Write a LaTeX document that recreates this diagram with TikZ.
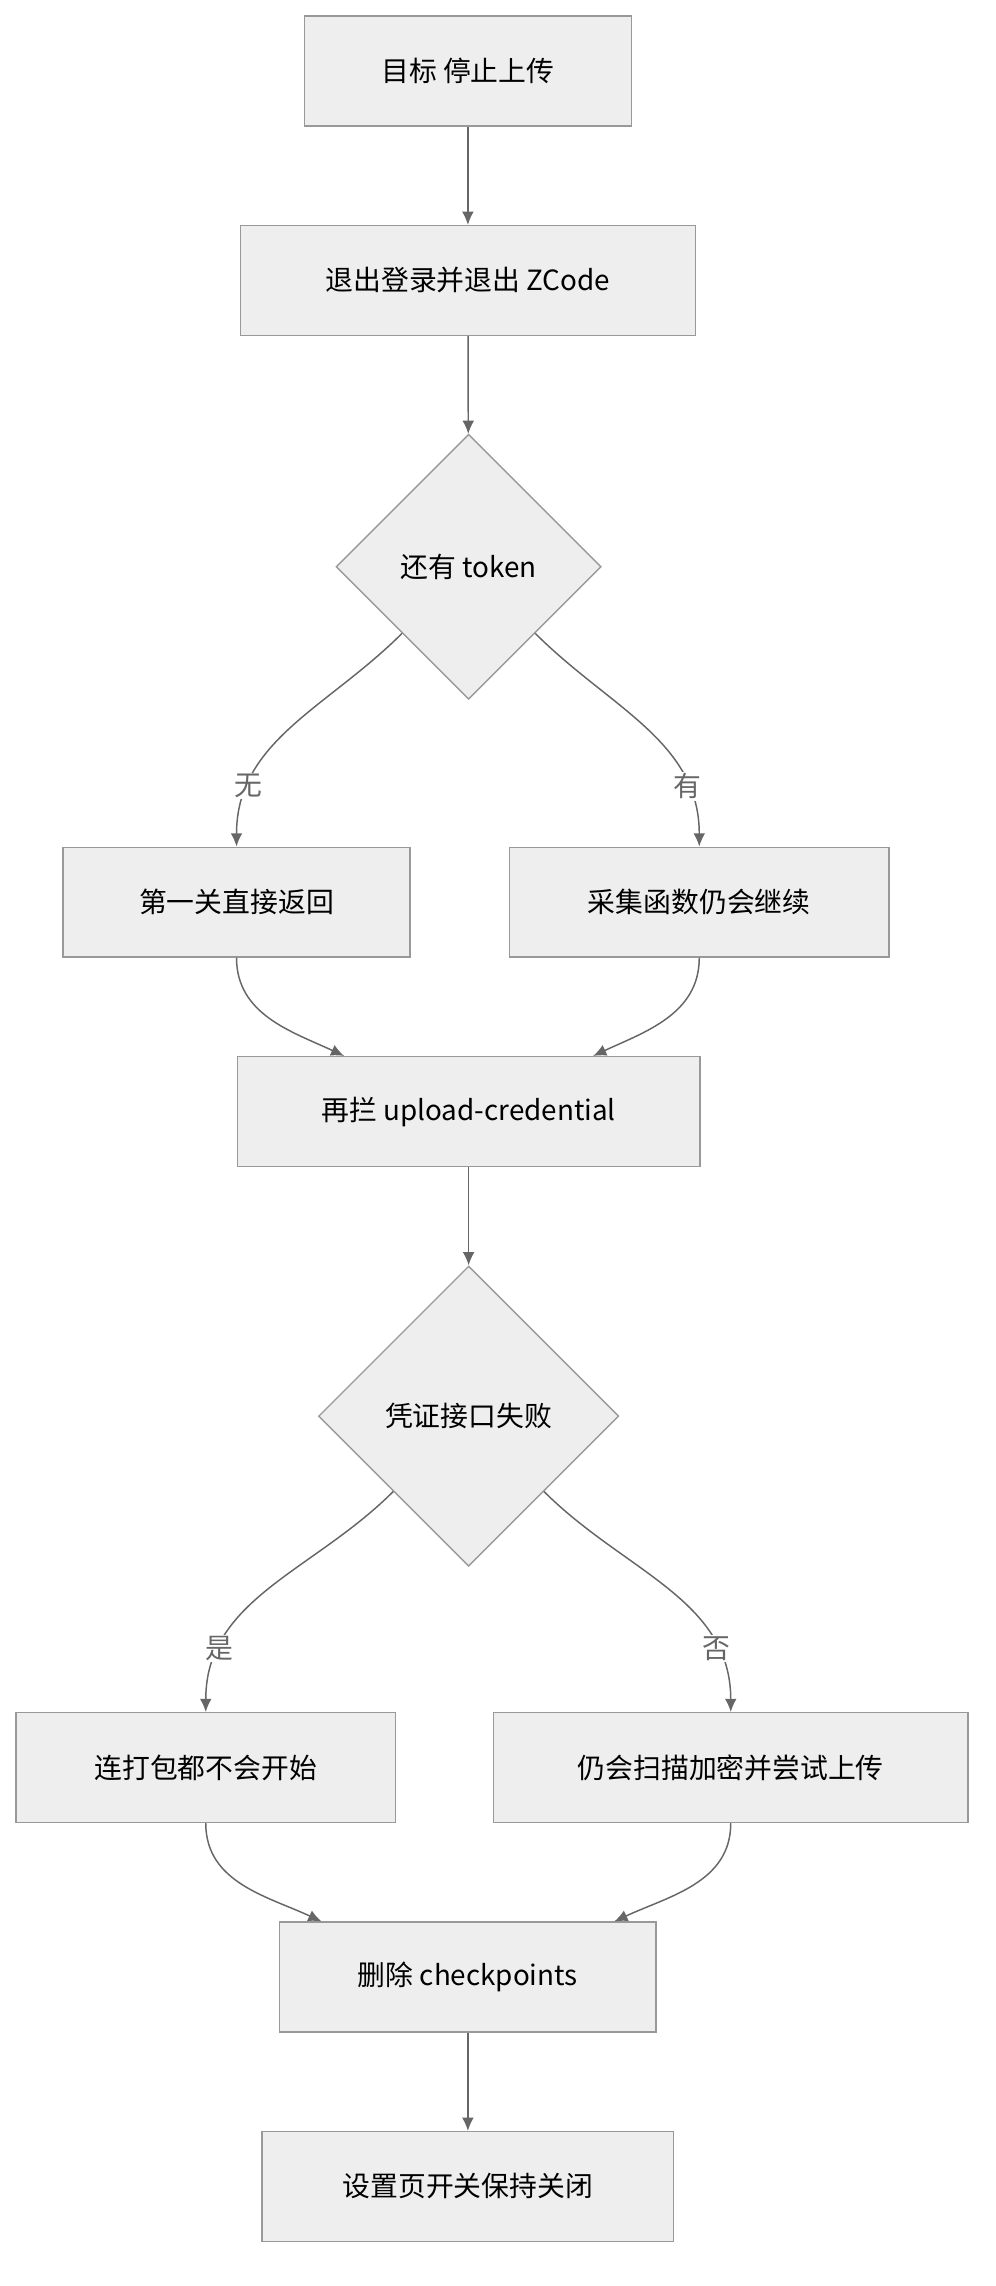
\documentclass[tikz,border=0pt]{standalone}
\usepackage{fontspec}
\setmainfont{Liberation Sans}
\newfontfamily\cjk{Noto Sans CJK SC}
\usetikzlibrary{arrows.meta,shapes.geometric}
\definecolor{boxfill}{HTML}{EEEEEE}
\definecolor{boxline}{HTML}{999999}
\definecolor{arrowc}{HTML}{666666}
\begin{document}
\begin{tikzpicture}[x=1pt,y=-1pt,
  font=\cjk\fontsize{19}{22}\selectfont,
  stepbox/.style={shape=rectangle, draw=boxline, fill=boxfill, line width=0.9pt,
    minimum height=75pt, inner sep=0pt},
  choice/.style={shape=diamond, draw=boxline, fill=boxfill, line width=0.9pt,
    inner sep=0pt, shape aspect=1},
  flow/.style={-{Latex[length=9pt,width=8pt]}, line width=1pt, color=arrowc},
  lbl/.style={fill=white, inner sep=1pt}
]
\useasboundingbox (0,0) rectangle (680,1561);

\node[stepbox, minimum width=223pt](goal) at (319.5,48.5) {目标 停止上传};
\node[stepbox, minimum width=311pt](logout) at (319.5,191.5) {退出登录并退出 ZCode};
\node[choice, minimum width=181pt, minimum height=181pt](token) at (320,387) {还有 token};
\node[stepbox, minimum width=237pt](first) at (161.5,616) {第一关直接返回};
\node[stepbox, minimum width=259pt](collect) at (477.5,616) {采集函数仍会继续};
\node[stepbox, minimum width=316pt](cred) at (320,759) {再拦 upload-credential};
\node[choice, minimum width=205pt, minimum height=205pt](fail) at (320,967) {凭证接口失败};
\node[stepbox, minimum width=259pt](nopack) at (140.5,1207) {连打包都不会开始};
\node[stepbox, minimum width=324pt](scan) at (499,1207) {仍会扫描加密并尝试上传};
\node[stepbox, minimum width=257pt](ckpt) at (319.5,1350) {删除 checkpoints};
\node[stepbox, minimum width=281pt](keep) at (319.5,1493) {设置页开关保持关闭};

%main line
\draw[flow] (goal) -- (logout);
\draw[flow] (logout) -- (token);
\draw[flow] (cred) -- (fail);
\draw[flow] (ckpt) -- (keep);

%first split
\draw[flow] (token.south west) to[out=-135,in=90]
  node[lbl, pos=0.78](no) {无} (first.north);
\draw[flow] (token.south east) to[out=-45,in=90]
  node[lbl, pos=0.78](yes) {有} (collect.north);
\draw[flow] (first.south) to[out=-90,in=155] ([xshift=-85pt]cred.north);
\draw[flow] (collect.south) to[out=-90,in=25] ([xshift=85pt]cred.north);

%second split
\draw[flow] (fail.south west) to[out=-135,in=90]
  node[lbl, pos=0.78](isfail) {是} (nopack.north);
\draw[flow] (fail.south east) to[out=-45,in=90]
  node[lbl, pos=0.78](notfail) {否} (scan.north);
\draw[flow] (nopack.south) to[out=-90,in=155] ([xshift=-100pt]ckpt.north);
\draw[flow] (scan.south) to[out=-90,in=25] ([xshift=100pt]ckpt.north);
\end{tikzpicture}
\end{document}
